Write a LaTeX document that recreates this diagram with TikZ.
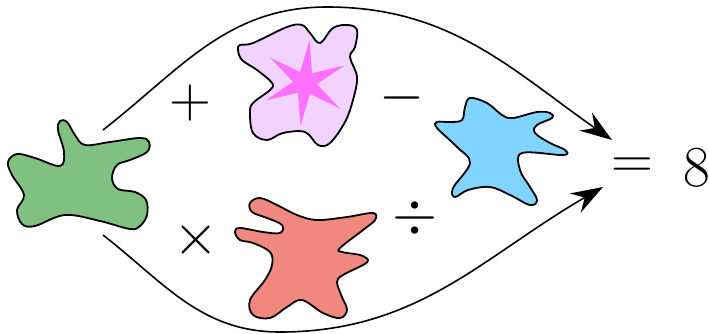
\documentclass[tikz,border=0pt]{standalone}
\usepackage{fix-cm}
\usetikzlibrary{arrows.meta}

\begin{document}
\begin{tikzpicture}[x=1pt, y=-1pt,
    blob/.style={draw=black, line width=1.8pt},
    sym/.style={inner sep=0pt, font=\fontsize{58}{60}\selectfont},
    flow/.style={line width=1.6pt, -{Stealth[length=32pt, width=22pt, inset=11pt]}}]

    % 颜色
    \definecolor{BlobGreen}{RGB}{128, 192, 128}
    \definecolor{BlobPink}{RGB}{242, 210, 255}
    \definecolor{StarPink}{RGB}{255, 112, 255}
    \definecolor{BlobBlue}{RGB}{128, 212, 255}
    \definecolor{BlobRed}{RGB}{240, 136, 128}

    \useasboundingbox (0,0) rectangle (709,334);

    % 绿色块
    \filldraw[blob, fill=BlobGreen] plot[smooth cycle, tension=0.6] coordinates {
        (58,130) (60,121) (67,122) (75,135) (85,145) (110,142) (140,138) (149,142)
        (147,152) (130,160) (117,165) (112,178) (118,189) (135,192) (146,200)
        (147,215) (140,226) (130,229) (100,221) (65,215) (35,226) (22,224)
        (17,210) (24,195) (12,175) (8,162) (17,154) (35,158) (60,166) (64,152)};

    % 粉色块和星
    \filldraw[blob, fill=BlobPink] plot[smooth cycle, tension=0.6] coordinates {
        (240,45) (253,43) (287,27) (302,25) (310,33) (320,43) (333,28) (348,25)
        (357,30) (355,47) (350,57) (357,77) (353,100) (345,122) (330,143)
        (318,145) (305,132) (283,133) (267,140) (253,133) (250,113) (253,103)
        (270,90) (272,83) (257,70) (242,60) (238,50)};
    \fill[StarPink, shift={(305,83)}] (36:43)
        \foreach \i in {0,...,5} { -- (66+60*\i:12) -- (96+60*\i:43)} -- cycle;

    % 蓝色块
    \filldraw[blob, fill=BlobBlue] plot[smooth cycle, tension=0.6] coordinates {
        (470,98) (487,103) (502,115) (513,118) (537,112) (550,113) (552,118)
        (537,125) (535,133) (550,143) (565,150) (563,155) (522,153) (520,170)
        (530,187) (537,200) (530,205) (510,195) (490,187) (468,190) (455,197)
        (453,188) (470,163) (457,147) (437,128) (437,122) (450,122) (462,120)
        (465,107)};

    % 红色块
    \filldraw[blob, fill=BlobRed] plot[smooth cycle, tension=0.6] coordinates {
        (250,203) (260,198) (277,205) (297,215) (317,220) (347,217) (373,213)
        (375,220) (363,230) (340,248) (342,252) (360,255) (368,260) (363,265)
        (343,275) (337,282) (342,297) (347,310) (340,318) (323,313) (302,300)
        (287,307) (270,318) (253,315) (250,300) (265,280) (272,265) (270,252)
        (253,243) (240,240) (235,232) (240,228) (263,232) (280,233) (282,225)
        (267,218) (252,212)};

    % 运算符
    \node[sym] (plus)  at (190,103) {$+$};
    \node[sym] (minus) at (402,98)  {$-$};
    \node[sym] (times) at (196,240) {$\times$};
    \node[sym] (div)   at (415,218) {$\div$};
    \node[sym] (eq)    at (632,168) {$=$};
    \node[sym] (eight) at (697,168) {$8$};

    % 箭头
    \coordinate (topstart) at (103,130);
    \coordinate (toppeak)  at (327,7);
    \coordinate (topend)   at (612,140);
    \coordinate (botstart) at (103,235);
    \coordinate (botlow)   at (280,332);
    \coordinate (botend)   at (603,187);
    \draw[flow] (topstart) to[out=38, in=180] (toppeak) to[out=0, in=145] (topend);
    \draw[flow] (botstart) to[out=-38, in=180] (botlow) to[out=0, in=-150] (botend);

\end{tikzpicture}
\end{document}
